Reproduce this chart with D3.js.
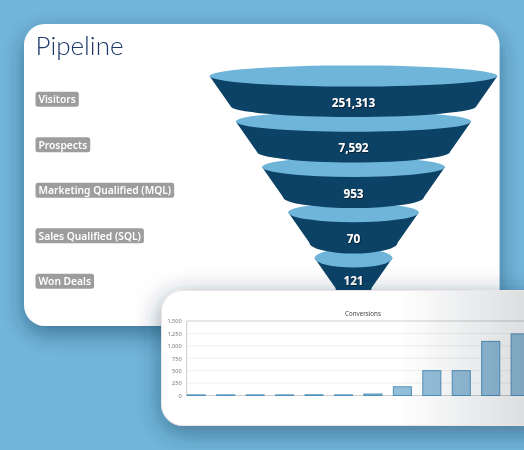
<!DOCTYPE html>
<html><head><meta charset="utf-8">
<script src="https://cdn.jsdelivr.net/npm/d3@7"></script>
<style>
html,body{margin:0;padding:0;background:#72b6da;overflow:hidden}
svg{display:block}
text{font-family:"Noto Sans","Open Sans",sans-serif}
</style></head><body>
<svg id="c" width="524" height="450"></svg>
<script>
const chartTitle = "Pipeline";
const stages = ["Visitors","Prospects","Marketing Qualified (MQL)","Sales Qualified (SQL)","Won Deals"];
const stageValues = [251313,7592,953,70,121];
const barTitle = "Conversions";
const periods = ["1","2","3","4","5","6","7","8","9","10","11","12"];
const conversions = [12,12,12,12,14,12,30,175,500,500,1090,1240];
const yTicks = [0,250,500,750,1000,1250,1500];

const svg = d3.select("#c");
const defs = svg.append("defs");
const mkShadow = (id,dy,blur,op)=>{
  const f = defs.append("filter").attr("id",id).attr("x","-30%").attr("y","-30%").attr("width","160%").attr("height","160%");
  f.append("feDropShadow").attr("dx",0).attr("dy",dy).attr("stdDeviation",blur).attr("flood-color","#0b2f4a").attr("flood-opacity",op);
};
mkShadow("s1",8,11,.48);
mkShadow("s2",6,13,.5);
const txt = defs.append("filter").attr("id","ts").attr("x","-20%").attr("y","-30%").attr("width","140%").attr("height","160%");
txt.append("feDropShadow").attr("dx",.6).attr("dy",.6).attr("stdDeviation",.3).attr("flood-color","#000").attr("flood-opacity",.85);
const grad = defs.append("linearGradient").attr("id","fade").attr("x1",0).attr("x2",1).attr("y1",0).attr("y2",0);
grad.append("stop").attr("offset","0").attr("stop-color","#fff");
grad.append("stop").attr("offset","1").attr("stop-color","#dcdee0");

// Card 1
svg.append("rect").attr("x",24).attr("y",24).attr("width",475.5).attr("height",302).attr("rx",21)
  .attr("fill","#fff").attr("filter","url(#s1)");
svg.append("text").attr("x",35.5).attr("y",55).attr("font-size",26).attr("fill","#1d3768")
  .style("font-family","Lato").attr("font-weight",300).text(chartTitle);

// Funnel
const cx = 353.5;
const yPos = d3.scalePoint().domain(stages).range([76,258]);
const rx = d3.scaleLinear().domain([0,stages.length-1]).range([144,39]);
const coneDepth = 30, taper = 21, ryBot = 11;
const funnel = svg.append("g");
const g = funnel.selectAll("g").data(stages).join("g");
g.append("path").attr("fill","#0b4266").attr("d",(d,i)=>{
  const y = yPos(d), r = rx(i), b = r-taper, yb = y+coneDepth;
  return `M${cx-r},${y} L${cx-b},${yb} A${b},${ryBot} 0 0 0 ${cx+b},${yb} L${cx+r},${y} Z`;
});
g.append("ellipse").attr("cx",cx).attr("cy",d=>yPos(d)).attr("rx",(d,i)=>rx(i)).attr("ry",(d,i)=>10.6-.3*i)
  .attr("fill","#6fb5da");
g.append("text").attr("x",cx).attr("y",(d,i)=>yPos(d)+(i==4?23:26.3)+4.2).attr("text-anchor","middle")
  .attr("font-size",11.7).attr("font-weight",700).attr("fill","#fff").attr("filter","url(#ts)")
  .text((d,i)=>d3.format(",")(stageValues[i]));
// Upper segments sit on top of the ones below them
g.nodes().reverse().forEach(n=>n.parentNode.appendChild(n));

// Badges
const badges = svg.append("g").selectAll("g").data(stages).join("g")
  .attr("transform",d=>`translate(35.5,${yPos(d)+23.3})`);
badges.append("rect").attr("fill","#9d9d9d").attr("rx",2.5).attr("y",-7.5).attr("height",15);
badges.append("text").attr("x",3).attr("y",3.8).attr("font-size",10.25).attr("font-weight",600)
  .attr("fill","#fff").text(d=>d);
badges.each(function(){
  const s=d3.select(this), w=s.select("text").node().getComputedTextLength();
  s.select("rect").attr("width",w+6);
});

// Card 2
svg.append("rect").attr("x",161.5).attr("y",290.5).attr("width",420).attr("height",135).attr("rx",21)
  .attr("fill","#fff").attr("stroke","#efe3e4").attr("stroke-width",1).attr("filter","url(#s2)");

const x = d3.scaleBand().domain(periods).range([186.7,529.2]).paddingInner(.37).paddingOuter(0);
const y = d3.scaleLinear().domain([0,1500]).range([395.5,321]);
const plot = svg.append("g");
plot.append("g").selectAll("line").data(yTicks.filter(t=>t>0&&t<1500)).join("line")
  .attr("x1",186.7).attr("x2",540).attr("y1",d=>y(d)).attr("y2",d=>y(d))
  .attr("stroke","#f0f0f0").attr("stroke-width",1);
plot.append("path").attr("fill","none").attr("stroke","#cdcdcd").attr("stroke-width",1)
  .attr("d",`M186.7,${y(0)} V${y(1500)} H540 M186.7,${y(0)} H540`);
const ax = d3.axisLeft(y).tickValues(yTicks).tickFormat(d3.format(",")).tickSize(0).tickPadding(5);
const axG = plot.append("g").attr("transform","translate(186.7,0)").call(ax);
axG.select(".domain").remove();
axG.selectAll("text").attr("font-size",5.6).attr("fill","#777").style("font-family","Noto Sans");
plot.append("g").selectAll("rect").data(conversions).join("rect")
  .attr("x",(d,i)=>x(periods[i])+.5).attr("width",x.bandwidth()-.5)
  .attr("y",d=>y(d)).attr("height",d=>y(0)-y(d))
  .attr("fill","#94bfdb").attr("stroke","#4f90b8").attr("stroke-width",1);
plot.append("text").attr("x",363).attr("y",315.5).attr("text-anchor","middle")
  .attr("font-size",6.2).attr("fill","#444").text(barTitle);

// Sheen over the right side of card 2
svg.append("rect").attr("x",400).attr("y",291).attr("width",124).attr("height",134)
  .attr("fill","url(#fade)").style("mix-blend-mode","multiply");
</script>
</body></html>
